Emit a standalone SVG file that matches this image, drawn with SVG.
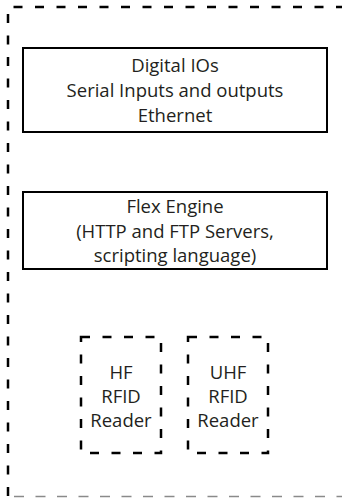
<svg xmlns="http://www.w3.org/2000/svg" width="342" height="500" viewBox="0 0 342 500">
<style>
text{font-family:"Open Sans","Liberation Sans",sans-serif;font-size:18.5px;fill:#231f20;text-anchor:middle}
.box{fill:#fff;stroke:#000;stroke-width:2}
.dash{fill:none;stroke:#000;stroke-width:2.5;stroke-dasharray:9 12.5}
</style>
<rect width="342" height="500" fill="#fff"/>
<g id="outer">
<path class="dash" d="M8,496 V7 H345" stroke-dashoffset="0"/>
<path d="M14,496.5 H342" fill="none" stroke="#8a8a8a" stroke-width="1.5" stroke-dasharray="10 11.5"/>
</g>
<g id="digital">
<rect class="box" x="23" y="48" width="304" height="84"/>
<text x="175" y="72">Digital IOs</text>
<text x="175" y="97">Serial Inputs and outputs</text>
<text x="175" y="122">Ethernet</text>
</g>
<g id="flex">
<rect class="box" x="23" y="192" width="304" height="77"/>
<text x="175" y="213">Flex Engine</text>
<text x="175" y="238">(HTTP and FTP Servers,</text>
<text x="175" y="262">scripting language)</text>
</g>
<g id="hf">
<rect class="dash" x="81" y="337" width="80" height="116"/>
<text x="121" y="379">HF</text>
<text x="121" y="403">RFID</text>
<text x="121" y="427">Reader</text>
</g>
<g id="uhf">
<rect class="dash" x="188" y="337" width="80" height="116"/>
<text x="228" y="379">UHF</text>
<text x="228" y="403">RFID</text>
<text x="228" y="427">Reader</text>
</g>
<g id="connectors"/>
</svg>
